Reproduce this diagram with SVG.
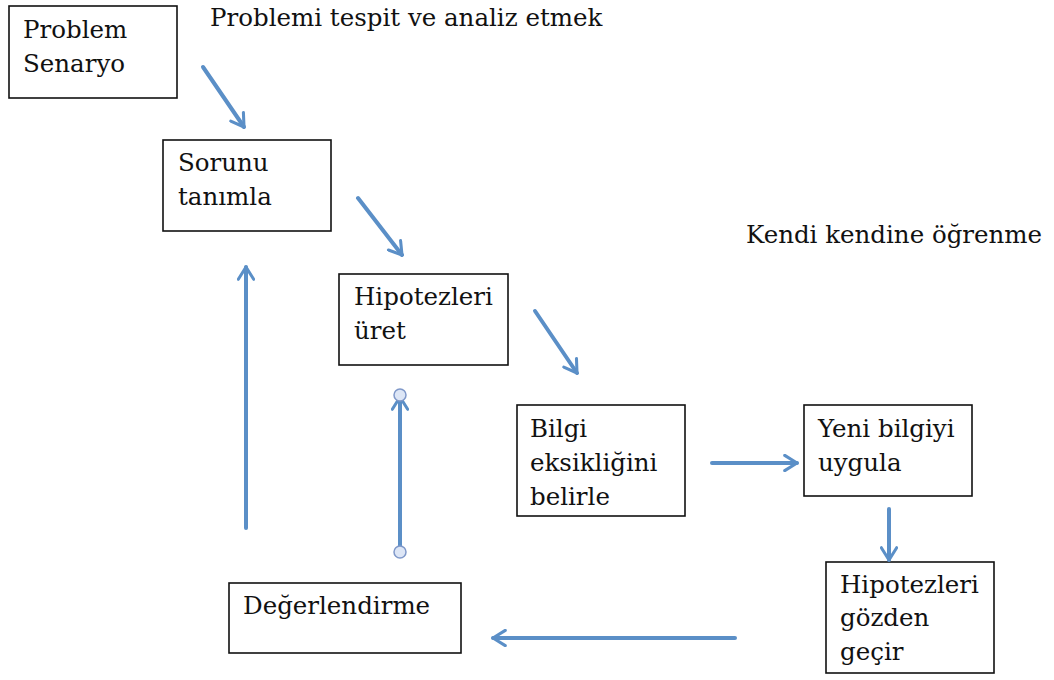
<svg xmlns="http://www.w3.org/2000/svg" width="1054" height="680" viewBox="0 0 1054 680">
<style>
.box{fill:#fff;stroke:#111;stroke-width:1.6}
.t{font-family:"DejaVu Serif","Liberation Serif",serif;font-size:24.5px;fill:#111}
.c{stroke:#5b8fc7;stroke-width:4;fill:none;stroke-linecap:round}
.dot{fill:#dde6f6;stroke:#7f98c9;stroke-width:1.5}
</style>
<defs>
<marker id="ah" viewBox="0 0 12 12" refX="10" refY="6" markerWidth="4.6" markerHeight="4.6" markerUnits="strokeWidth" orient="auto">
<path d="M2,1 L10,6 L2,11" fill="none" stroke="#5b8fc7" stroke-width="2" stroke-linecap="round" stroke-linejoin="round"/>
</marker>
</defs>
<rect width="1054" height="680" fill="#fff"/>
<text class="t" x="210" y="26">Problemi tespit ve analiz etmek</text>
<text class="t" x="746" y="243">Kendi kendine öğrenme</text>
<g id="n1"><rect class="box" x="9" y="6" width="168" height="92"/><text class="t" x="23" y="38">Problem</text><text class="t" x="23" y="72">Senaryo</text></g>
<g id="n2"><rect class="box" x="163" y="140" width="168" height="91"/><text class="t" x="178" y="171">Sorunu</text><text class="t" x="178" y="205">tanımla</text></g>
<g id="n3"><rect class="box" x="339" y="274" width="169" height="91"/><text class="t" x="354" y="305">Hipotezleri</text><text class="t" x="354" y="339">üret</text></g>
<g id="n4"><rect class="box" x="517" y="405" width="168" height="111"/><text class="t" x="530" y="437">Bilgi</text><text class="t" x="530" y="471">eksikliğini</text><text class="t" x="530" y="505">belirle</text></g>
<g id="n5"><rect class="box" x="804" y="405" width="168" height="91"/><text class="t" x="818" y="437">Yeni bilgiyi</text><text class="t" x="818" y="471">uygula</text></g>
<g id="n6"><rect class="box" x="826" y="562" width="168" height="111"/><text class="t" x="840" y="593">Hipotezleri</text><text class="t" x="840" y="626">gözden</text><text class="t" x="840" y="660">geçir</text></g>
<g id="n7"><rect class="box" x="229" y="583" width="232" height="70"/><text class="t" x="243" y="614">Değerlendirme</text></g>
<g id="connectors">
<line class="c" x1="203" y1="67" x2="244" y2="127" marker-end="url(#ah)"/>
<line class="c" x1="358" y1="198" x2="402" y2="255" marker-end="url(#ah)"/>
<line class="c" x1="535" y1="311" x2="577" y2="373" marker-end="url(#ah)"/>
<line class="c" x1="712" y1="463" x2="797" y2="463" marker-end="url(#ah)"/>
<line class="c" x1="889" y1="509" x2="889" y2="560" marker-end="url(#ah)"/>
<line class="c" x1="735" y1="638" x2="493" y2="638" marker-end="url(#ah)"/>
<line class="c" x1="246" y1="528" x2="246" y2="267" marker-end="url(#ah)"/>
<line class="c" x1="400" y1="552" x2="400" y2="397" marker-end="url(#ah)"/>
<circle class="dot" cx="400" cy="552" r="6"/>
<circle class="dot" cx="400" cy="395" r="6"/>
</g>
</svg>
